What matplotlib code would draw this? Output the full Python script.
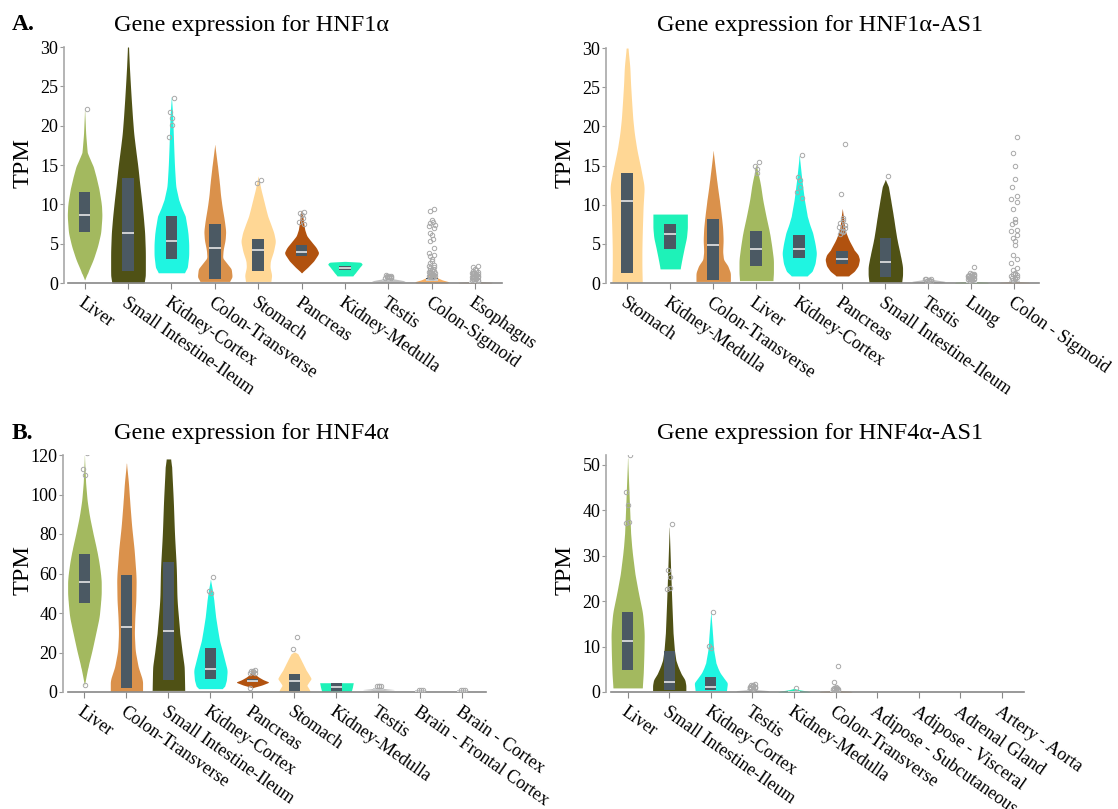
import numpy as np
import matplotlib
matplotlib.use("Agg")
import matplotlib.pyplot as plt

plt.rcParams['font.family'] = ['Liberation Serif', 'DejaVu Serif']

W, H = 1118, 809

# ---- HNF1a ----
hnf1a_tissues = ["Liver", "Small Intestine-Ileum", "Kidney-Cortex", "Colon-Transverse", "Stomach",
                 "Pancreas", "Kidney-Medulla", "Testis", "Colon-Sigmoid", "Esophagus"]
hnf1a_q1 = [6.5, 1.5, 3.1, 0.5, 1.5, 3.4, 1.6, 0.25, 0.2, 0.05]
hnf1a_med = [8.7, 6.3, 5.4, 4.4, 4.2, 3.9, 1.9, 0.4, 0.4, 0.1]
hnf1a_q3 = [11.6, 13.4, 8.5, 7.5, 5.6, 4.8, 2.2, 0.5, 0.6, 0.15]
hnf1a_levels = [
    [0.4, 1.3, 3, 4.7, 6.4, 8.5, 10, 12, 13.5, 14.8, 15.8, 16.6, 19, 22.2],
    [0, 1, 4, 6.4, 8.5, 10.6, 12.7, 14.8, 17, 19, 21, 23.3, 25.5, 27.5, 30],
    [1.3, 2, 3.5, 5, 6.5, 8.5, 9.5, 10.6, 12.3, 14.8, 17, 19, 21.5, 23.7],
    [0.2, 0.8, 1.8, 2.5, 3.2, 4.2, 5.5, 6.6, 8, 9.7, 11.2, 12.7, 14.8, 16.2, 17.6],
    [0.2, 1, 2, 2.8, 4, 5.3, 6.4, 7.5, 8.5, 9.6, 10.6, 11.9, 13, 13.6],
    [1.3, 2, 2.8, 3.8, 4.5, 5.3, 6, 6.8, 8, 9, 9.3],
    [0.9, 1.3, 2, 2.4, 2.65, 2.75],
    [0.1, 0.25, 0.4, 0.55, 0.75],
    [0, 0.15, 0.4, 0.7, 1.0, 1.3],
    [0, 0.08, 0.2],
]
hnf1a_widths = [
    [0, .17, .5, .75, .93, 1, .97, .82, .66, .5, .3, .15, .06, 0],
    [.93, 1, 1, .96, .88, .78, .67, .57, .44, .33, .26, .19, .13, .08, .03],
    [.75, .92, 1, 1, .95, .8, .6, .42, .25, .18, .14, .11, .07, 0],
    [.85, 1, .95, .7, .45, .48, .6, .63, .55, .42, .33, .27, .16, .08, 0],
    [.73, .78, .68, .7, .88, 1, .9, .72, .55, .42, .31, .16, .06, 0],
    [0, .35, .7, 1, .85, .55, .3, .18, .1, .04, 0],
    [.45, .6, .85, 1, .9, 0],
    [.6, 1, .65, .25, 0],
    [.9, 1, .6, .3, .12, 0],
    [.9, 1, 0],
]
hnf1a_outliers = [
    [22.1], [], [23.5, 21.7, 21.0, 20.1, 18.6], [], [13.1, 12.7],
    [9.0, 8.9, 8.6, 8.3, 7.8, 7.5], [],
    [0.6, 0.7, 0.8, 0.9, 1.0, 0.75, 0.65, 0.85, 0.9, 0.7],
    [9.4, 9.1, 8.0, 7.8, 7.6, 7.4, 7.3, 7.0, 6.4, 6.1, 5.6, 5.3, 4.5, 3.8, 3.6, 3.4, 3.1,
     2.8, 2.5, 2.3, 2.1, 2.0, 1.9, 1.8, 1.7, 1.6, 1.5, 1.4, 1.3, 1.25, 1.2, 1.1, 1.05,
     1.0, 0.95, 0.9, 0.85, 0.8, 0.75, 0.7],
    [2.2, 2.0, 1.8, 1.6, 1.5, 1.4, 1.3, 1.2, 1.1, 1.0, 0.95, 0.9, 0.85, 0.8, 0.7, 0.65,
     0.6, 0.5, 0.45, 0.4, 0.35, 0.3, 1.25, 1.15, 1.05, 0.75],
]

# ---- HNF1a-AS1 ----
hnf1a_as1_tissues = ["Stomach", "Kidney-Medulla", "Colon-Transverse", "Liver", "Kidney-Cortex",
                     "Pancreas", "Small Intestine-Ileum", "Testis", "Lung", "Colon - Sigmoid"]
hnf1a_as1_q1 = [1.3, 4.3, 0.4, 2.2, 3.2, 2.4, 0.8, 0.1, 0.05, 0.1]
hnf1a_as1_med = [10.5, 6.2, 4.8, 4.3, 4.4, 3.1, 2.7, 0.2, 0.1, 0.2]
hnf1a_as1_q3 = [14.1, 7.5, 8.2, 6.6, 6.1, 4.1, 5.8, 0.3, 0.15, 0.3]
hnf1a_as1_levels = [
    [0.1, 2.1, 4.2, 6.4, 9.8, 12.3, 14.8, 17, 19.1, 21, 23.3, 25.5, 27.6, 30],
    [1.8, 3, 4.5, 5.8, 7.0, 8.0, 8.8],
    [0.2, 1.3, 2.2, 3, 4, 5.5, 7, 8.5, 10.6, 12, 13.2, 15, 16.9],
    [0.3, 1.3, 3, 4.7, 6.4, 8.5, 10.6, 12.7, 15.1],
    [0.9, 1.5, 2.5, 3.8, 5, 6.4, 7.5, 8.5, 10.6, 13.2, 16.3],
    [0.9, 1.5, 2.2, 3.0, 3.6, 4.2, 5.5, 6.8, 8.5, 9.5],
    [0.1, 1, 2.1, 3.5, 5.5, 7, 8.5, 10.6, 12.3, 13.2],
    [0.05, 0.2, 0.4, 0.6],
    [0, 0.1, 0.2],
    [0, 0.1, 0.25],
]
hnf1a_as1_widths = [
    [.88, .86, .86, .88, .93, 1, .78, .57, .42, .33, .26, .2, .16, .05],
    [.58, .68, .82, .95, 1, 1, 1],
    [1, 1, .85, .6, .55, .58, .55, .48, .36, .27, .2, .1, 0],
    [.97, 1, 1, .9, .78, .57, .38, .24, 0],
    [.45, .75, .92, 1, .92, .78, .6, .47, .3, .15, 0],
    [.35, .7, .92, 1, .92, .7, .38, .15, .06, 0],
    [.95, 1, 1, .88, .68, .57, .47, .31, .18, 0],
    [.8, 1, .4, 0],
    [1, .9, 0],
    [.9, .8, 0],
]
hnf1a_as1_outliers = [
    [], [], [], [15.4, 14.9, 14.5, 14.0], [16.3, 13.5, 13.1, 12.2, 11.6, 10.9],
    [17.7, 11.4, 8.3, 8.0, 7.7, 7.4, 7.2, 7.0, 6.7, 6.6, 6.5, 6.3], [13.6],
    [0.2, 0.3, 0.35, 0.4, 0.45, 0.5, 0.55, 0.3, 0.25],
    [2.0, 1.3, 1.2, 1.1, 1.0, 1.0, 0.9, 0.85, 0.8, 0.75, 0.7, 0.65, 0.6, 0.55, 0.5, 0.45,
     0.4, 0.35, 0.3, 1.15, 0.95],
    [18.7, 16.6, 15.0, 13.3, 12.3, 11.1, 10.7, 10.3, 9.4, 8.2, 7.8, 7.5, 6.8, 6.6, 6.1,
     5.8, 5.3, 4.8, 3.6, 3.1, 2.5, 1.9, 1.6, 1.3, 1.2, 1.1, 1.0, 0.9, 0.8, 0.7, 0.6, 0.5, 0.4],
]

# ---- HNF4a ----
hnf4a_tissues = ["Liver", "Colon-Transverse", "Small Intestine-Ileum", "Kidney-Cortex", "Pancreas",
                 "Stomach", "Kidney-Medulla", "Testis", "Brain - Frontal Cortex", "Brain - Cortex"]
hnf4a_q1 = [45, 2, 6, 6.5, 5, 0.5, 0.5, 1.2, 0.4, 0.4]
hnf4a_med = [55.5, 33, 31, 11.5, 5.8, 5.5, 2.5, 1.6, 0.6, 0.6]
hnf4a_q3 = [70, 59, 66, 22.5, 6.5, 9, 4.5, 2, 0.8, 0.8]
hnf4a_levels = [
    [3.4, 8, 12.7, 21, 29.6, 38, 46, 50, 56, 60, 66, 72, 80, 89, 97, 106, 120],
    [0.3, 6, 12.7, 21, 29.6, 38, 46.5, 58, 72, 84, 97, 106, 116],
    [0.8, 12.7, 20, 29.6, 46.5, 63, 80, 97, 114, 118],
    [1.7, 3, 6, 11, 16, 21, 26, 32, 38, 46.5, 51.5, 57],
    [2.2, 3.5, 5, 6.2, 7.6, 9, 11],
    [0.3, 1.8, 3.4, 5, 6.8, 9, 11, 14.4, 17, 19.4, 20.3],
    [0.3, 2.5, 4.7],
    [0.8, 1.2, 1.6, 2.2],
    [0.2, 0.4],
    [0.2, 0.4],
]
hnf4a_widths = [
    [0, .1, .21, .45, .67, .88, .97, 1, 1, .96, .86, .73, .52, .3, .16, .07, 0],
    [.96, .96, .7, .52, .47, .5, .56, .58, .46, .31, .19, .12, 0],
    [.97, .94, .82, .68, .51, .47, .36, .29, .19, .13],
    [.7, .85, .95, 1, .85, .7, .54, .42, .31, .2, .12, 0],
    [0, .55, 1, .65, .36, .15, 0],
    [.94, .85, .73, .85, 1, .85, .7, .5, .35, .2, 0],
    [.88, .95, 1],
    [.3, 1, .5, 0],
    [.3, 0],
    [.3, 0],
]
hnf4a_outliers = [
    [121, 113, 110, 3.5], [], [], [58, 51, 50],
    [11.2, 10.8, 10.5, 10.2, 9.8, 9.5, 2.2], [28, 22], [],
    [3.0, 3.1, 2.9, 3.0], [0.8, 0.9, 0.8], [0.8, 0.8, 0.9],
]

# ---- HNF4a-AS1 ----
hnf4a_as1_tissues = ["Liver", "Small Intestine-Ileum", "Kidney-Cortex", "Testis", "Kidney-Medulla",
                     "Colon-Transverse", "Adipose - Subcutaneous", "Adipose - Visceral",
                     "Adrenal Gland", "Artery - Aorta"]
hnf4a_as1_q1 = [4.8, 0.4, 0.4, 0.2, 0.05, 0.1, 0, 0, 0, 0]
hnf4a_as1_med = [11.2, 2.2, 1.2, 0.4, 0.1, 0.2, 0, 0, 0, 0]
hnf4a_as1_q3 = [17.6, 9, 3.2, 0.6, 0.2, 0.3, 0, 0, 0, 0]
hnf4a_as1_levels = [
    [0.9, 4.2, 8.6, 13, 17.4, 21.8, 26, 31.3, 35, 42.3, 51.7],
    [0.3, 1.5, 2.7, 4, 5.6, 7, 9.3, 13, 20.3, 27.6, 36.4],
    [0.3, 2, 3, 4.2, 5.3, 6.4, 9.3, 13, 17.7],
    [0.1, 0.3, 0.6],
    [0, 0.2, 0.5, 0.8],
    [0, 0.15, 0.3],
    [], [], [], [],
]
hnf4a_as1_widths = [
    [.88, .94, .98, 1, .9, .65, .44, .26, .18, .1, 0],
    [1, 1, .94, .72, .53, .4, .31, .23, .15, .08, 0],
    [.94, 1, .8, .56, .42, .31, .17, .1, 0],
    [.9, 1, 0],
    [1, .8, .3, 0],
    [1, .9, 0],
    [], [], [], [],
]
hnf4a_as1_outliers = [
    [52.3, 44.0, 41.2, 37.5, 37.2], [37.0, 26.8, 25.3, 23.0, 22.6], [17.6, 10.1, 9.6],
    [1.8, 1.6, 1.5, 1.3, 1.2, 1.1, 1.0, 0.9, 0.8, 0.7, 1.4, 0.95, 1.05], [0.9],
    [5.7, 2.2, 1.0, 0.9, 0.8, 0.7, 0.6, 0.5, 0.5, 0.4, 0.6], [], [], [], [],
]

TISSUE_COLORS = {
    "Liver": "#A3B95F", "Small Intestine-Ileum": "#4F5115", "Kidney-Cortex": "#1FF5E1",
    "Colon-Transverse": "#DA914B", "Stomach": "#FFD795", "Pancreas": "#B1520F",
    "Kidney-Medulla": "#1EF2B8", "Testis": "#BEBEBE", "Colon-Sigmoid": "#F5AD62",
    "Colon - Sigmoid": "#F8C48C", "Esophagus": "#C89B6C", "Lung": "#8CF55B",
    "Brain - Frontal Cortex": "#E6E6B0", "Brain - Cortex": "#E6E6B0",
}
BOX_COLOR = "#4B5963"
HALF_W = 0.4
BOX_HW = 0.135


def px_axes(fig, left, top, right, bottom):
    return fig.add_axes([left / W, 1 - bottom / H, (right - left) / W, (bottom - top) / H])


def outline(lv, w):
    # soften the corners of the read-off outline (drawing only)
    lv = np.asarray(lv, float)
    w = np.asarray(w, float)
    if len(lv) < 4:
        return lv, w
    t = np.linspace(0, len(lv) - 1, 25 * len(lv))
    y = np.interp(t, np.arange(len(lv)), lv)
    x = np.interp(t, np.arange(len(lv)), w)
    k = np.ones(15) / 15
    xs = np.convolve(np.pad(x, 7, mode='edge'), k, mode='valid')
    xs[0], xs[-1] = x[0], x[-1]
    return y, xs


def draw_panel(ax, tissues, levels, widths, q1, med, q3, outliers, ylim, yticks, xlim, xstart):
    for i, t in enumerate(tissues):
        c = TISSUE_COLORS.get(t, "#DDDDDD")
        if len(levels[i]):
            y, w = outline(levels[i], widths[i])
            w = w * HALF_W
            ax.fill_betweenx(y, i - w, i + w, color=c, lw=0, zorder=2)
        if q3[i] > q1[i]:
            ax.bar(i, q3[i] - q1[i], bottom=q1[i], width=2 * BOX_HW, color=BOX_COLOR, lw=0, zorder=3)
            ax.hlines(med[i], i - BOX_HW, i + BOX_HW, color="#E6E6E6", lw=1.2, zorder=4)
        pts = outliers[i]
        if pts:
            k = np.arange(len(pts))
            xs = i + 0.07 * np.sin(2.7 * k + 1.0)
            ax.plot(xs, pts, 'o', ms=3.2, mfc='none', mec='#A8A8A8', mew=0.7, zorder=5)
    ax.set_xlim(*xlim)
    ax.set_ylim(*ylim)
    ax.set_yticks(yticks)
    ax.set_xticks(range(len(tissues)))
    ax.set_xticklabels(tissues, rotation=-35, ha='left', va='top', rotation_mode='anchor', fontsize=13)
    ax.tick_params(axis='y', labelsize=13, length=3, width=0.8, color='#999999', pad=1)
    ax.tick_params(axis='x', length=4, width=0.8, color='#888888', pad=4)
    for s in ['top', 'right']:
        ax.spines[s].set_visible(False)
    ax.spines['left'].set_color('#A8A8A8')
    ax.spines['left'].set_linewidth(1.2)
    ax.spines['bottom'].set_color('#888888')
    ax.spines['bottom'].set_linewidth(1.2)
    ax.spines['bottom'].set_bounds(xstart, xlim[1])


fig = plt.figure(figsize=(W / 100, H / 100), dpi=100)

ax1 = px_axes(fig, 64, 47, 502, 283)
draw_panel(ax1, hnf1a_tissues, hnf1a_levels, hnf1a_widths, hnf1a_q1, hnf1a_med, hnf1a_q3,
           hnf1a_outliers, (0, 30), [0, 5, 10, 15, 20, 25, 30], (-0.475, 9.62), -0.38)
ax2 = px_axes(fig, 606, 48, 1039, 283)
draw_panel(ax2, hnf1a_as1_tissues, hnf1a_as1_levels, hnf1a_as1_widths, hnf1a_as1_q1, hnf1a_as1_med,
           hnf1a_as1_q3, hnf1a_as1_outliers, (0, 30), [0, 5, 10, 15, 20, 25, 30], (-0.49, 9.57), -0.37)
ax3 = px_axes(fig, 63, 455, 486, 692)
draw_panel(ax3, hnf4a_tissues, hnf4a_levels, hnf4a_widths, hnf4a_q1, hnf4a_med, hnf4a_q3,
           hnf4a_outliers, (0, 120), [0, 20, 40, 60, 80, 100, 120], (-0.51, 9.56), -0.4)
ax4 = px_axes(fig, 606, 455, 1024, 692)
draw_panel(ax4, hnf4a_as1_tissues, hnf4a_as1_levels, hnf4a_as1_widths, hnf4a_as1_q1, hnf4a_as1_med,
           hnf4a_as1_q3, hnf4a_as1_outliers, (0, 52.2), [0, 10, 20, 30, 40, 50], (-0.52, 9.53), -0.4)


def ftext(x, y, s, **kw):
    fig.text(x / W, 1 - y / H, s, **kw)


ftext(252, 25, "Gene expression for HNF1α", fontsize=17.5, ha='center', va='center')
ftext(820, 25, "Gene expression for HNF1α-AS1", fontsize=17.5, ha='center', va='center')
ftext(252, 433, "Gene expression for HNF4α", fontsize=17.5, ha='center', va='center')
ftext(820, 433, "Gene expression for HNF4α-AS1", fontsize=17.5, ha='center', va='center')
ftext(12, 25, "A.", fontsize=17, fontweight='bold', ha='left', va='center')
ftext(12, 433, "B.", fontsize=17, fontweight='bold', ha='left', va='center')
for x, y in [(23, 163), (565, 163), (23, 570), (565, 570)]:
    ftext(x, y, "TPM", fontsize=17.5, rotation=90, ha='center', va='center')

fig.savefig("out.png", dpi=100)
